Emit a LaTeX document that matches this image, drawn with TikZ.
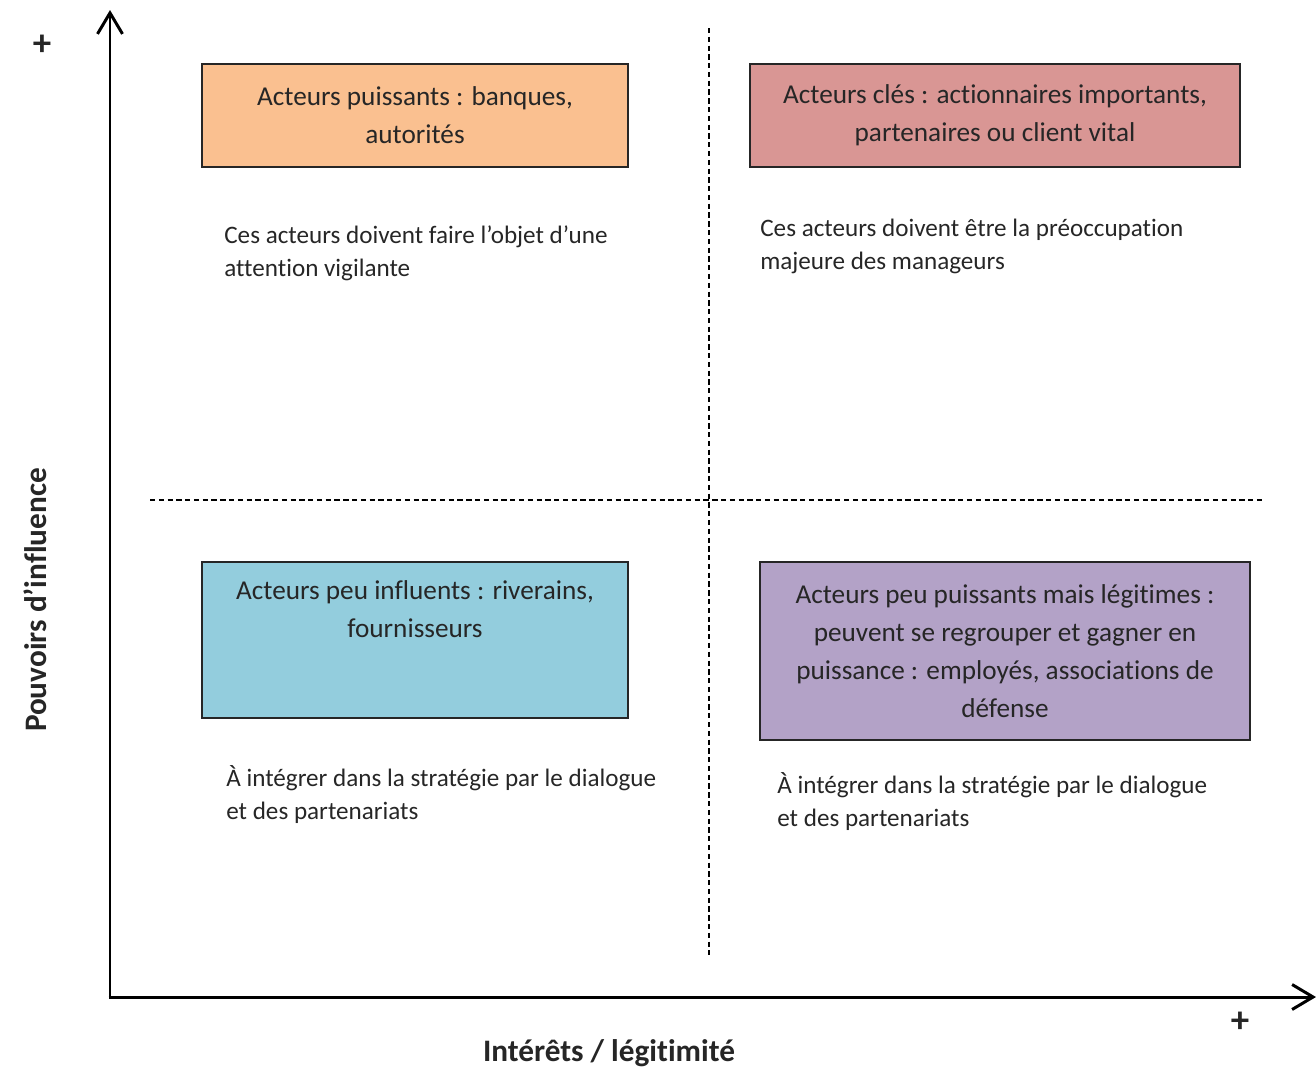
\documentclass[tikz,border=0pt]{standalone}
\usepackage{fontspec}
\setmainfont{Carlito}[Ligatures={TeX,NoCommon}]
\usetikzlibrary{arrows.meta}

\definecolor{orangeclair}{HTML}{FAC090}
\definecolor{rougeclair}{HTML}{D99694}
\definecolor{bleuclair}{HTML}{93CDDD}
\definecolor{violetclair}{HTML}{B3A2C7}
\definecolor{encre}{HTML}{262626}

\begin{document}
\begin{tikzpicture}[x=0.02cm, y=-0.02cm,
        axe/.style={line width=1.7pt, -{Straight Barb[length=4.2mm, width=5mm, line width=1.7pt]}},
        separation/.style={line width=1pt, dash pattern=on 3pt off 2pt},
        acteur/.style={draw=encre, line width=0.9pt, align=center, text=encre,
            font=\fontsize{15.5}{21.5}\selectfont},
        texte/.style={anchor=north west, align=left, inner sep=0pt, text=encre,
            font=\fontsize{14.3}{18.8}\selectfont},
        titre/.style={font=\fontsize{17.8}{20}\selectfont\bfseries, text=encre},
        signe/.style={font=\fontsize{21}{22}\selectfont\bfseries, text=encre}]
            \useasboundingbox (0, 0) rectangle (1316, 1069);
            % axes
            \coordinate (origine) at (110, 997);
            \coordinate (haut) at (110, 10);
            \coordinate (droite) at (1316, 997);
            \draw[axe] ([yshift=-0.75pt]origine) -- (haut);
            \draw[axe] ([xshift=-0.75pt]origine) -- (droite);
            \node[signe] (plushaut) at (42, 45) {+};
            \node[signe] (plusdroite) at (1240, 1022) {+};
            \node[titre, rotate=90] (pouvoir) at (35, 600) {Pouvoirs d’influence};
            \node[titre] (interet) at (609, 1053) {Intérêts / légitimité};
            % quadrants
            \coordinate (vhaut) at (709, 28);
            \coordinate (vbas) at (709, 955);
            \coordinate (hgauche) at (150, 500);
            \coordinate (hdroite) at (1265, 500);
            \draw[separation] (vhaut) -- (vbas);
            \draw[separation] (hgauche) -- (hdroite);
            % acteurs
            \node[acteur, fill=orangeclair, minimum width=8.52cm, minimum height=2.06cm] (puissants) at (415, 115.5)
                {Acteurs puissants : banques,\\autorités};
            \node[acteur, fill=rougeclair, minimum width=9.8cm, minimum height=2.06cm] (cles) at (995, 115.5)
                {Acteurs clés : actionnaires importants,\\partenaires ou client vital};
            \node[acteur, fill=bleuclair, minimum width=8.52cm, minimum height=3.12cm] (peu) at (415, 640) {};
            \node[acteur, draw=none, anchor=north] (peutexte) at ([yshift=-0.26cm]peu.north)
                {Acteurs peu influents : riverains,\\fournisseurs};
            \node[acteur, fill=violetclair, minimum width=9.8cm, minimum height=3.56cm] (legitimes) at (1005, 651)
                {Acteurs peu puissants mais légitimes :\\peuvent se regrouper et gagner en\\puissance : employés, associations de\\défense};
            % consignes
            \node[texte] (vigilance) at (224, 225)
                {Ces acteurs doivent faire l’objet d’une\\attention vigilante};
            \node[texte] (priorite) at (760, 219)
                {Ces acteurs doivent être la préoccupation\\majeure des manageurs};
            \node[texte] (dialogue) at (226, 765)
                {À intégrer dans la stratégie par le dialogue\\et des partenariats};
            \node[texte] (partenariat) at (777, 772)
                {À intégrer dans la stratégie par le dialogue\\et des partenariats};
        \end{tikzpicture}
\end{document}
